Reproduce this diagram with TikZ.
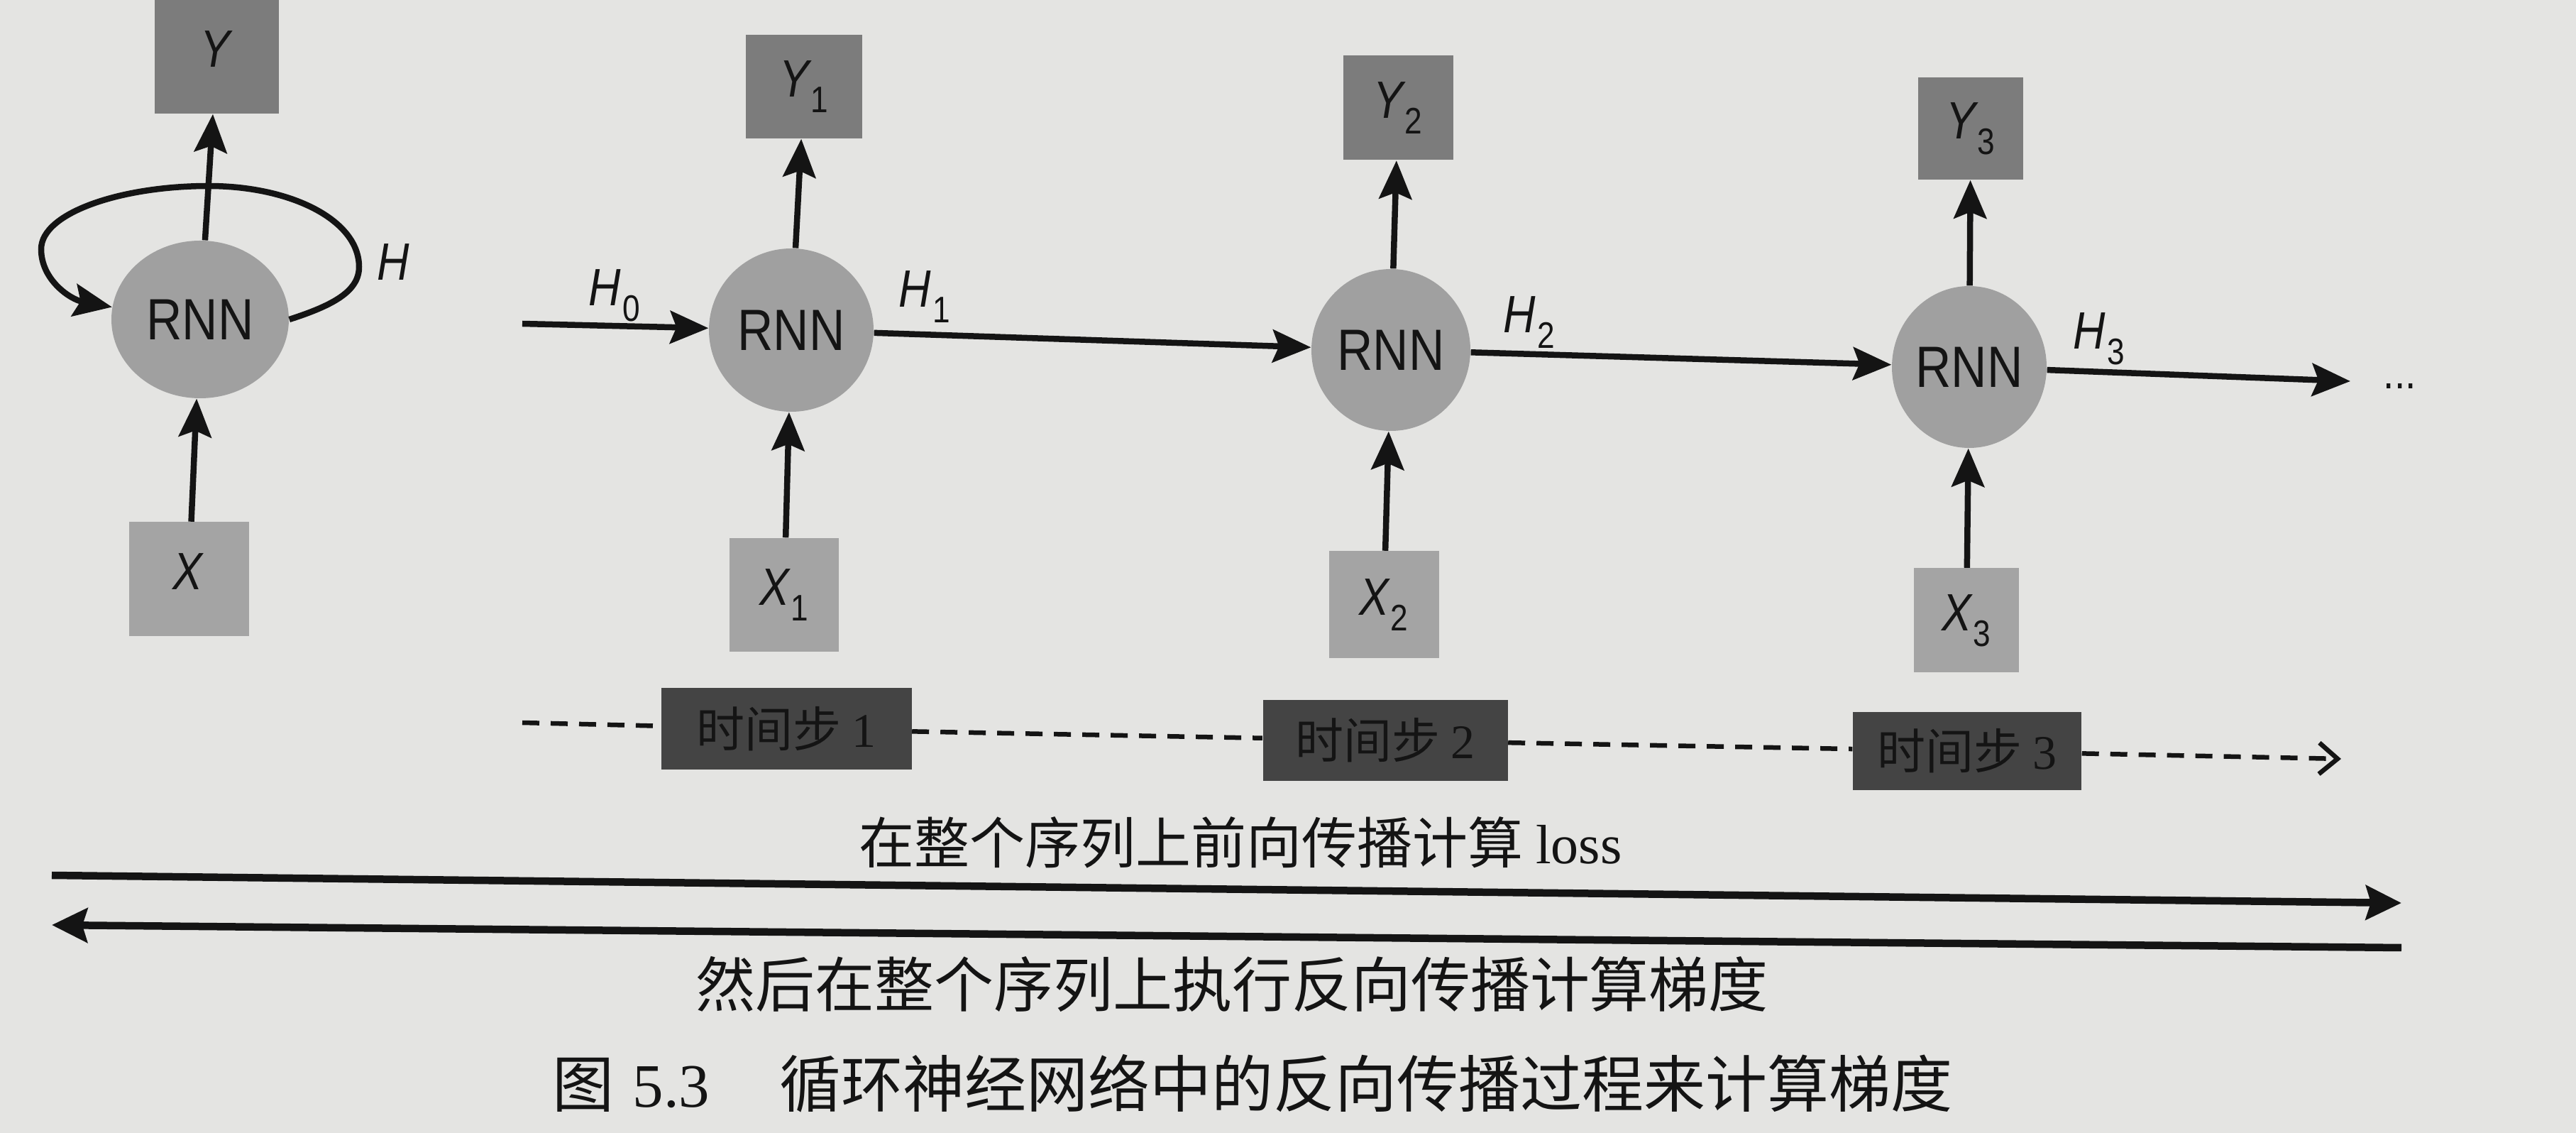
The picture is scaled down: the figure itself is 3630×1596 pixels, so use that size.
\documentclass[tikz,border=0pt]{standalone}
\usepackage{fontspec}
\setmainfont{Liberation Sans}
\newfontfamily\labfont[FakeStretch=0.85]{Liberation Sans}
\newfontfamily\cjkfont{Noto Sans CJK SC}
\newfontfamily\serfont{Liberation Serif}
\usetikzlibrary{arrows.meta,shapes.geometric}
\definecolor{bg}{HTML}{E4E4E2}
\definecolor{ink}{HTML}{141414}
\definecolor{cellfill}{HTML}{A0A0A0}
\definecolor{yfill}{HTML}{7C7C7C}
\definecolor{xfill}{HTML}{A4A4A4}
\definecolor{tfill}{HTML}{444444}
\newcommand{\vlab}[2]{{\labfont\fontsize{7.4mm}{8mm}\selectfont\itshape #1\kern0.03em\raisebox{-0.3em}{\fontsize{5.2mm}{6mm}\selectfont\upshape #2}}}
\begin{document}
\begin{tikzpicture}[x=0.1mm,y=-0.1mm,color=ink,
  cell/.style={ellipse,fill=cellfill,inner sep=0pt,font=\labfont\fontsize{8.2mm}{9mm}\selectfont},
  ybox/.style={rectangle,fill=yfill,inner sep=0pt},
  xbox/.style={rectangle,fill=xfill,inner sep=0pt},
  tbox/.style={rectangle,fill=tfill,inner sep=0pt,font=\cjkfont\fontsize{6.8mm}{7mm}\selectfont},
  flow/.style={draw=ink,line width=0.85mm,-{Stealth[length=5.4mm,width=4.6mm,inset=0.9mm]}},
  pass/.style={draw=ink,line width=1.05mm,-{Stealth[length=5mm,width=4.8mm,inset=0.7mm]}},
  tline/.style={draw=ink,line width=0.65mm,dash pattern=on 2.4mm off 1.6mm},
  hlab/.style={inner sep=0pt},
  note/.style={inner sep=0pt}
]
\useasboundingbox (0,0) rectangle (3630,1596);
\fill[bg] (0,0) rectangle (3630,1596);

% folded RNN
\node[cell,minimum width=25mm,minimum height=22.2mm] (R0) at (282,450) {RNN};
\node[ybox,minimum width=17.5mm,minimum height=16mm] (Y0) at (305,80) {\vlab{Y}{}};
\node[xbox,minimum width=16.9mm,minimum height=16.1mm] (X0) at (266,816) {\vlab{X}{}};
\node[hlab] (H) at (555,380) {\vlab{H}{}};

% unrolled RNN
\node[cell,minimum width=23.2mm,minimum height=23mm] (R1) at (1115,465) {RNN};
\node[ybox,minimum width=16.4mm,minimum height=14.6mm] (Y1) at (1133,122) {\vlab{Y}{1}};
\node[xbox,minimum width=15.4mm,minimum height=16mm] (X1) at (1105,838) {\vlab{X}{1}};

\node[cell,minimum width=22.4mm,minimum height=22.8mm] (R2) at (1960,493) {RNN};
\node[ybox,minimum width=15.5mm,minimum height=14.7mm] (Y2) at (1970,152) {\vlab{Y}{2}};
\node[xbox,minimum width=15.5mm,minimum height=15.1mm] (X2) at (1950,852) {\vlab{X}{2}};

\node[cell,minimum width=21.8mm,minimum height=22.8mm] (R3) at (2775,517) {RNN};
\node[ybox,minimum width=14.8mm,minimum height=14.4mm] (Y3) at (2777,181) {\vlab{Y}{3}};
\node[xbox,minimum width=14.8mm,minimum height=14.7mm] (X3) at (2771,874) {\vlab{X}{3}};

\node[hlab] (H0) at (866,416) {\vlab{H}{0}};
\node[hlab] (H1) at (1303,418) {\vlab{H}{1}};
\node[hlab] (H2) at (2155,454) {\vlab{H}{2}};
\node[hlab] (H3) at (2958,477) {\vlab{H}{3}};
\node[hlab,anchor=base west,font=\labfont\fontsize{6.5mm}{7mm}\selectfont] (dots) at (3358,548) {...};

\coordinate (h0s) at (736,456);
\coordinate (h3e) at (3312,537);

% time steps
\node[tbox,minimum width=35.3mm,minimum height=11.5mm] (T1) at (1108,1027) {时间步 {\serfont 1}};
\node[tbox,minimum width=34.5mm,minimum height=11.4mm] (T2) at (1952,1043) {时间步 {\serfont 2}};
\node[tbox,minimum width=32.2mm,minimum height=11mm] (T3) at (2772,1058) {时间步 {\serfont 3}};
\coordinate (ts) at (736,1018);
\coordinate (te) at (3299,1069);

% bottom arrows and texts
\coordinate (fs) at (73,1233);
\coordinate (fe) at (3384,1272);
\coordinate (bs) at (3384,1335);
\coordinate (be) at (73,1303);
\node[note,font=\cjkfont\fontsize{7.8mm}{8mm}\selectfont] (L1) at (1748,1187) {在整个序列上前向传播计算 {\serfont loss}};
\node[note,font=\cjkfont\fontsize{8.4mm}{9mm}\selectfont] (L2) at (1736,1386) {然后在整个序列上执行反向传播计算梯度};
\node[note,anchor=west,font=\cjkfont\fontsize{8.7mm}{9mm}\selectfont] (cap) at (778,1526) {图\hspace{2.6mm}{\serfont 5.3}\hspace{9.8mm}循环神经网络中的反向传播过程来计算梯度};

% connectors
\draw[flow] (X0) -- (R0);
\draw[flow] (R0) -- (Y0);
\draw[flow] (R0.east) .. controls (470,430) and (506,410) .. (506,376)
  .. controls (506,310) and (410,262) .. (294,262)
  .. controls (170,262) and (58,300) .. (58,351)
  .. controls (58,395) and (100,422) .. (R0.172);

\draw[flow] (X1) -- (R1);
\draw[flow] (R1) -- (Y1);
\draw[flow] (X2) -- (R2);
\draw[flow] (R2) -- (Y2);
\draw[flow] (X3) -- (R3);
\draw[flow] (R3) -- (Y3);

\draw[flow] (h0s) -- (R1);
\draw[flow] (R1) -- (R2);
\draw[flow] (R2) -- (R3);
\draw[flow] (R3) -- (h3e);

\draw[tline,-{Straight Barb[length=2.6mm,width=4.4mm]}] (ts) -- (T1) -- (T2) -- (T3) -- (te);

\draw[pass] (fs) -- (fe);
\draw[pass] (bs) -- (be);
\end{tikzpicture}
\end{document}
